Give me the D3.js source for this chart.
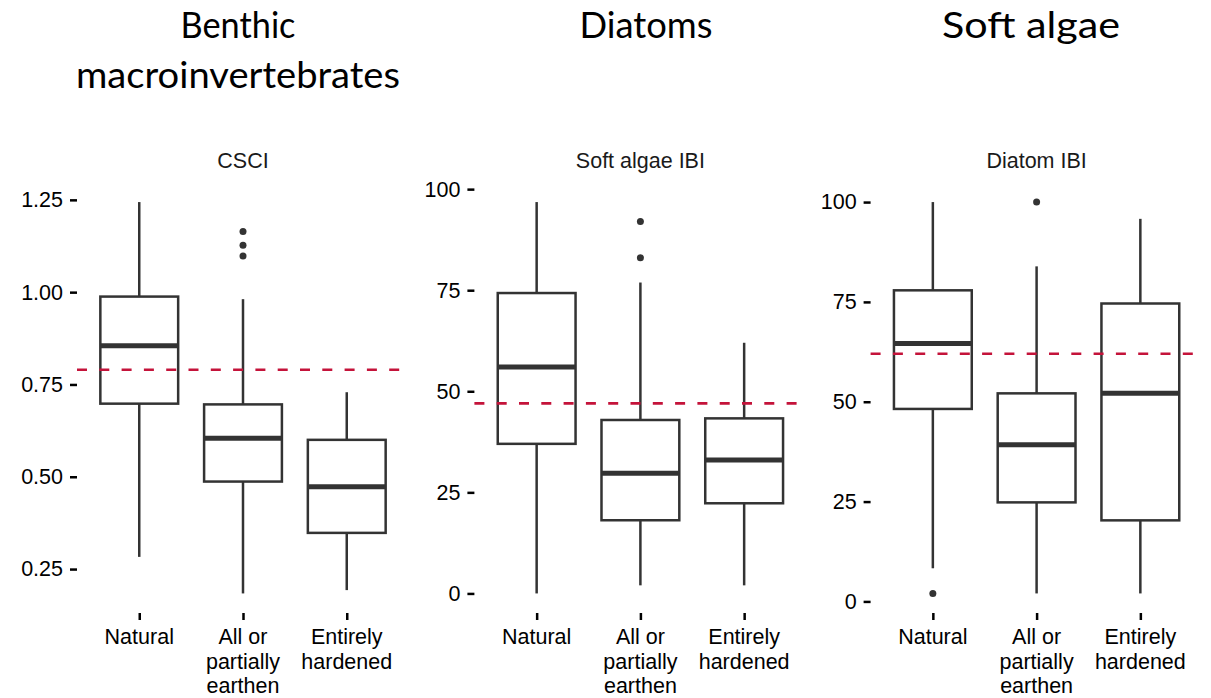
<!DOCTYPE html>
<html>
<head>
<meta charset="utf-8">
<script src="https://cdn.jsdelivr.net/npm/d3@7"></script>
<style>
  body { margin: 0; background: #fff; }
  svg { display: block; }
</style>
</head>
<body>
<svg id="chart"></svg>
<script>
// categories shared by the three panels
var categories = ["Natural", "All or partially earthen", "Entirely hardened"];
var categoryLines = [["Natural"], ["All or", "partially", "earthen"], ["Entirely", "hardened"]];

// column headings (as in the original figure)
var headings = [["Benthic", "macroinvertebrates"], ["Diatoms"], ["Soft algae"]];
var stripTitles = ["CSCI", "Soft algae IBI", "Diatom IBI"];

// box stats per category: [lower whisker, q1, median, q3, upper whisker]
var csciStats = [[0.283, 0.698, 0.855, 0.988, 1.244], [0.184, 0.487, 0.604, 0.696, 0.981], [0.193, 0.348, 0.473, 0.600, 0.729]];
var csciOutliers = [[], [1.098, 1.127, 1.164], []];
var csciThreshold = 0.79;
var csciTicks = [0.25, 0.50, 0.75, 1.00, 1.25];

var softStats = [[0, 37.0, 56.0, 74.3, 96.8], [2, 18.1, 29.7, 42.9, 76.9], [2, 22.3, 33.0, 43.3, 62.0]];
var softOutliers = [[], [83, 92], []];
var softThreshold = 47;
var softTicks = [0, 25, 50, 75, 100];

var diatomStats = [[8.3, 48.2, 64.6, 77.9, 100], [2, 24.8, 39.2, 52.1, 83.9], [2, 20.3, 52.1, 74.6, 95.8]];
var diatomOutliers = [[2], [100], []];
var diatomThreshold = 62;
var diatomTicks = [0, 25, 50, 75, 100];

var width = 1211,
    height = 698;

var svg = d3.select("#chart")
    .attr("width", width)
    .attr("height", height);

var boxColor = "#333333",
    lineColor = "#C4133A",
    axisFont = "'Liberation Sans', Arial, sans-serif";

var panels = [
  { stats: csciStats, outliers: csciOutliers, threshold: csciThreshold, ticks: csciTicks, fmt: d3.format(".2f"), left: 77, headX: 238, headW: [115, 324] },
  { stats: softStats, outliers: softOutliers, threshold: softThreshold, ticks: softTicks, fmt: d3.format("d"), left: 474.4, headX: 646, headW: [133] },
  { stats: diatomStats, outliers: diatomOutliers, threshold: diatomThreshold, ticks: diatomTicks, fmt: d3.format("d"), left: 870.6, headX: 1031, headW: [178] }
];

var panelW = 332,
    panelTop = 182.5,
    panelBottom = 613;

panels.forEach(function(p, i) {

  var g = svg.append("g");

  // y range with 5% expansion like ggplot
  var all = d3.merge(p.stats).concat(d3.merge(p.outliers));
  var lo = d3.min(all), hi = d3.max(all), pad = (hi - lo) * 0.05;

  var y = d3.scaleLinear()
      .domain([lo - pad, hi + pad])
      .range([panelBottom, panelTop]);

  var x = d3.scalePoint()
      .domain(categories)
      .range([p.left, p.left + panelW])
      .padding(0.6);

  var boxW = x.step() * 0.75;

  // heading
  g.selectAll(".head")
      .data(headings[i])
      .enter()
      .append("text")
      .attr("class", "head")
      .attr("x", p.headX)
      .attr("y", function(d, j) { return 38 + j * 50; })
      .attr("text-anchor", "middle")
      .attr("textLength", function(d, j) { return p.headW[j]; })
      .attr("lengthAdjust", "spacingAndGlyphs")
      .style("font-family", "Lato, sans-serif")
      .style("font-size", "37px")
      .style("fill", "#000")
      .text(function(d) { return d; });

  // strip title
  g.append("text")
      .attr("x", p.left + panelW / 2)
      .attr("y", 168)
      .attr("text-anchor", "middle")
      .style("font-family", axisFont)
      .style("font-size", "21.5px")
      .style("fill", "#1a1a1a")
      .text(stripTitles[i]);

  // y axis (ticks + labels, no line)
  var yAxis = g.append("g")
      .attr("transform", "translate(" + p.left + ",0)")
      .call(d3.axisLeft(y).tickValues(p.ticks).tickFormat(p.fmt).tickSize(7).tickPadding(7));
  yAxis.select(".domain").remove();
  yAxis.selectAll("line").attr("stroke", "#000").attr("stroke-width", 2.5);
  yAxis.selectAll("text")
      .style("font-family", axisFont)
      .style("font-size", "21.5px")
      .attr("fill", "#000");

  // x axis (ticks + wrapped labels)
  var xAxis = g.append("g")
      .attr("transform", "translate(0," + panelBottom + ")")
      .call(d3.axisBottom(x).tickSize(7).tickFormat(""));
  xAxis.select(".domain").remove();
  xAxis.selectAll("line").attr("stroke", "#000").attr("stroke-width", 2.5);

  categoryLines.forEach(function(lines, k) {
    g.append("text")
        .attr("x", x(categories[k]))
        .attr("y", 644)
        .attr("text-anchor", "middle")
        .style("font-family", axisFont)
        .style("font-size", "21.5px")
        .style("fill", "#000")
        .selectAll("tspan")
        .data(lines)
        .enter()
        .append("tspan")
        .attr("x", x(categories[k]))
        .attr("dy", function(d, j) { return j === 0 ? 0 : 24.5; })
        .text(function(d) { return d; });
  });

  // boxes
  var box = g.selectAll(".box")
      .data(p.stats)
      .enter()
      .append("g")
      .attr("class", "box");

  box.append("line")
      .attr("x1", function(d, k) { return x(categories[k]); })
      .attr("x2", function(d, k) { return x(categories[k]); })
      .attr("y1", function(d) { return y(d[3]); })
      .attr("y2", function(d) { return y(d[4]); })
      .attr("stroke", boxColor)
      .attr("stroke-width", 2.5);

  box.append("line")
      .attr("x1", function(d, k) { return x(categories[k]); })
      .attr("x2", function(d, k) { return x(categories[k]); })
      .attr("y1", function(d) { return y(d[0]); })
      .attr("y2", function(d) { return y(d[1]); })
      .attr("stroke", boxColor)
      .attr("stroke-width", 2.5);

  box.append("rect")
      .attr("x", function(d, k) { return x(categories[k]) - boxW / 2; })
      .attr("width", boxW)
      .attr("y", function(d) { return y(d[3]); })
      .attr("height", function(d) { return y(d[1]) - y(d[3]); })
      .attr("fill", "#fff")
      .attr("stroke", boxColor)
      .attr("stroke-width", 2.5);

  box.append("line")
      .attr("x1", function(d, k) { return x(categories[k]) - boxW / 2; })
      .attr("x2", function(d, k) { return x(categories[k]) + boxW / 2; })
      .attr("y1", function(d) { return y(d[2]); })
      .attr("y2", function(d) { return y(d[2]); })
      .attr("stroke", boxColor)
      .attr("stroke-width", 5);

  // outliers
  p.outliers.forEach(function(vals, k) {
    g.selectAll(".out" + k)
        .data(vals)
        .enter()
        .append("circle")
        .attr("class", "out" + k)
        .attr("cx", x(categories[k]))
        .attr("cy", function(d) { return y(d); })
        .attr("r", 3.5)
        .attr("fill", boxColor);
  });

  // threshold
  g.append("line")
      .attr("x1", p.left)
      .attr("x2", p.left + panelW)
      .attr("y1", y(p.threshold))
      .attr("y2", y(p.threshold))
      .attr("stroke", lineColor)
      .attr("stroke-width", 2.6)
      .attr("stroke-dasharray", "10,12.3");
});
</script>
</body>
</html>
